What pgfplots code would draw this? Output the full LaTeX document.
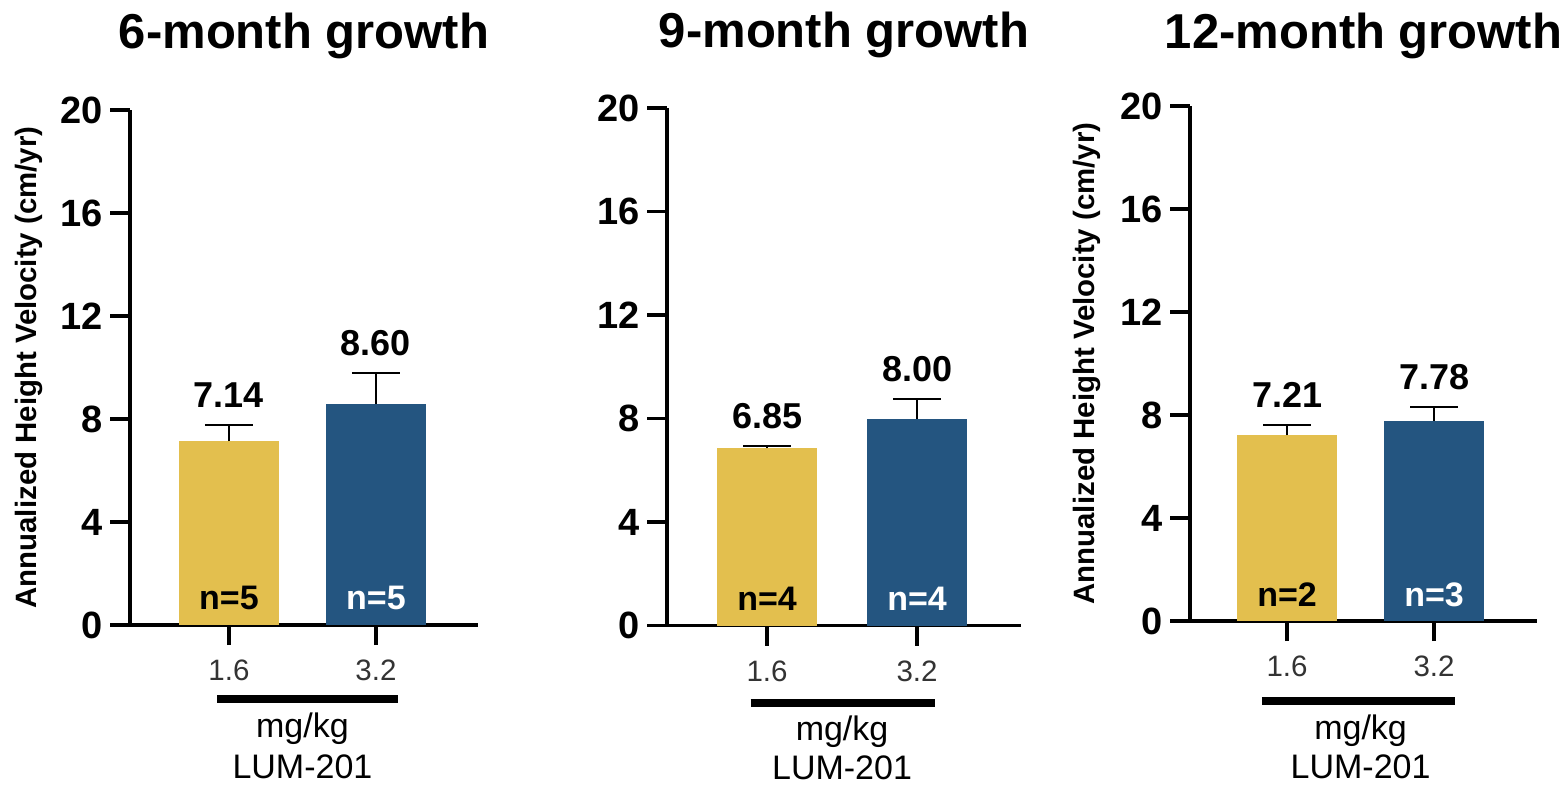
\documentclass[border=0pt]{standalone}
\usepackage{fontspec}
\setmainfont{Liberation Sans}
\usepackage{pgfplots}
\pgfplotsset{compat=1.18}
\definecolor{barY}{HTML}{E3BF4E}
\definecolor{barB}{HTML}{245580}
\newcommand\fs[1]{\fontsize{#1}{#1}\selectfont}

\pgfplotsset{
  panel/.style={
    scale only axis,
    axis x line*=bottom, axis y line*=left,
    ymin=0, ymax=20, ytick={0,4,8,12,16,20},
    xtick={0,1}, xticklabels={1.6,3.2},
    tick align=outside, major tick length=10pt,
    axis line style={line width=1.75pt},
    tick style={line width=1.75pt, black},
    clip=false,
    /pgf/number format/assume math mode=true,
    yticklabel style={font=\bfseries\fs{19}, inner sep=0pt, xshift=-3.5pt},
    xticklabel style={font=\fs{14.75}, text=black!80, anchor=center, yshift=-12.75pt},
    title style={font=\bfseries\fs{24.5}, anchor=base},
    ylabel style={font=\bfseries\fs{14.7}, anchor=center},
  },
  valbar/.style={ybar, bar width=0.68, bar shift=0pt, draw=none,
    error bars/y dir=plus, error bars/y explicit,
    error bars/error bar style={line width=1pt, black},
    error bars/error mark options={rotate=90, mark size=12pt, line width=1pt, black}},
  vlabel/.style={draw=none, point meta=explicit symbolic, nodes near coords,
    nodes near coords align={anchor=center},
    every node near coord/.append style={font=\bfseries\fs{18}, yshift=15pt}},
  nlabel/.style={draw=none, point meta=explicit symbolic, nodes near coords,
    nodes near coords align={anchor=center},
    every node near coord/.append style={font=\bfseries\fs{17}, yshift=#1}},
}

\begin{document}
\begin{tikzpicture}
\path[use as bounding box] (0,0) rectangle (783.5pt,-393pt);

% ---------- Panel 1 ----------
\begin{axis}[panel, at={(65pt,-312.5pt)}, anchor=south west,
  width=174pt, height=257.5pt, xmin=-0.673, xmax=1.694,
  title={6-month growth}, title style={at={(0.5,1)}, yshift=25pt},
  ylabel={Annualized Height Velocity (cm/yr)},
  ylabel style={at={(axis description cs:-0.29,0.5)}}]
\addplot[valbar, fill=barY] coordinates {(0,7.14) +- (0,0.64)};
\addplot[valbar, fill=barB] coordinates {(1,8.60) +- (0,1.19)};
\addplot[vlabel] coordinates {(0,7.78) [7.14] (1,9.79) [8.60]};
\addplot[nlabel=13.5pt] coordinates {(0,0) [n=5]};
\addplot[nlabel=13.5pt, every node near coord/.append style={text=white}] coordinates {(1,0) [n=5]};
\draw[line width=4pt] ([yshift=-37pt]axis cs:-0.08,0) -- ([yshift=-37pt]axis cs:1.15,0);
\node[font=\fs{17}] at ([yshift=-52pt]axis cs:0.5,0) {mg/kg};
\node[font=\fs{17}] at ([yshift=-71pt]axis cs:0.5,0) {LUM-201};
\end{axis}

% ---------- Panel 2 ----------
\begin{axis}[panel, at={(333.5pt,-312.75pt)}, anchor=south west,
  width=177pt, height=258.75pt, xmin=-0.667, xmax=1.693,
  title={9-month growth}, title style={at={(0.5,1)}, yshift=24pt}]
\addplot[valbar, fill=barY, bar width=0.667] coordinates {(0,6.85) +- (0,0.10)};
\addplot[valbar, fill=barB, bar width=0.667] coordinates {(1,8.00) +- (0,0.74)};
\addplot[vlabel] coordinates {(0,6.95) [6.85] (1,8.74) [8.00]};
\addplot[nlabel=13.5pt] coordinates {(0,0) [n=4]};
\addplot[nlabel=13.5pt, every node near coord/.append style={text=white}] coordinates {(1,0) [n=4]};
\draw[line width=4pt] ([yshift=-38.5pt]axis cs:-0.109,0) -- ([yshift=-38.5pt]axis cs:1.12,0);
\node[font=\fs{17}] at ([yshift=-53pt]axis cs:0.5,0) {mg/kg};
\node[font=\fs{17}] at ([yshift=-71pt]axis cs:0.5,0) {LUM-201};
\end{axis}

% ---------- Panel 3 ----------
\begin{axis}[panel, at={(595pt,-310.5pt)}, anchor=south west,
  width=173.5pt, height=257.5pt, xmin=-0.66, xmax=1.70,
  title={12-month growth}, title style={at={(0.5,1)}, yshift=23pt},
  ylabel={Annualized Height Velocity (cm/yr)},
  ylabel style={at={(axis description cs:-0.297,0.5)}}]
\addplot[valbar, fill=barY] coordinates {(0,7.21) +- (0,0.42)};
\addplot[valbar, fill=barB] coordinates {(1,7.78) +- (0,0.52)};
\addplot[vlabel] coordinates {(0,7.63) [7.21] (1,8.30) [7.78]};
\addplot[nlabel=13.3pt] coordinates {(0,0) [n=2]};
\addplot[nlabel=13.3pt, every node near coord/.append style={text=white}] coordinates {(1,0) [n=3]};
\draw[line width=4pt] ([yshift=-40pt]axis cs:-0.172,0) -- ([yshift=-40pt]axis cs:1.143,0);
\node[font=\fs{17}] at ([yshift=-54.7pt]axis cs:0.5,0) {mg/kg};
\node[font=\fs{17}] at ([yshift=-73pt]axis cs:0.5,0) {LUM-201};
\end{axis}
\end{tikzpicture}
\end{document}
